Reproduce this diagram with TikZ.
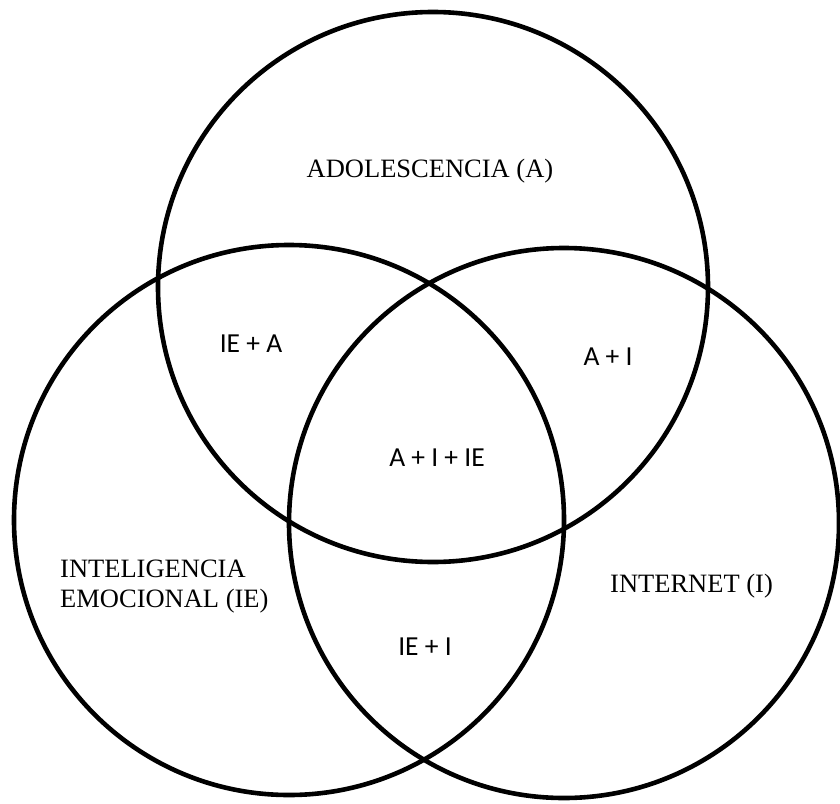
\documentclass[tikz,border=0pt]{standalone}
\usepackage{fontspec}
\setmainfont{Liberation Serif}
\newfontfamily\calib{Carlito}
\begin{document}
\begin{tikzpicture}[x=1pt,y=-1pt,
  ring/.style={draw=black,line width=4.6pt},
  setlabel/.style={font=\fontsize{26.5}{30}\selectfont,inner sep=0pt},
  zonelabel/.style={font=\calib\fontsize{27.5}{30}\selectfont,inner sep=0pt,anchor=base}]
\fill[white] (0,0) rectangle (840,803);
\useasboundingbox (0,0) rectangle (840,803);
\node[ring,circle,minimum size=550pt,inner sep=0pt] (A) at (433,287) {};
\node[ring,circle,minimum size=550pt,inner sep=0pt] (E) at (289,520) {};
\node[ring,circle,minimum size=550pt,inner sep=0pt] (I) at (564,523) {};
\node[setlabel,anchor=base] (la) at (430,177) {ADOLESCENCIA (A)};
\node[setlabel,anchor=north west,align=left] (le) at (60,559.5) {INTELIGENCIA\\EMOCIONAL (IE)};
\node[setlabel,anchor=base west] (li) at (610,592) {INTERNET (I)};
\node[zonelabel] (ea) at (251,352) {IE + A};
\node[zonelabel] (ai) at (608,365) {A + I};
\node[zonelabel] (aie) at (437,466) {A + I + IE};
\node[zonelabel] (ei) at (425,655) {IE + I};
\end{tikzpicture}
\end{document}
